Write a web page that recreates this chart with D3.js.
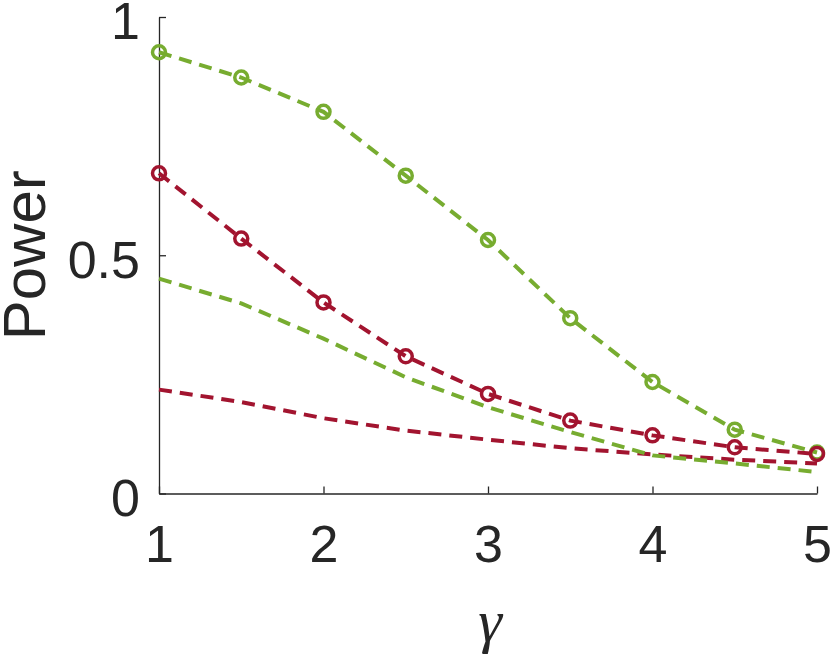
<!DOCTYPE html>
<html>
<head>
<meta charset="utf-8">
<script src="https://cdn.jsdelivr.net/npm/d3@7"></script>
<style>
  body { margin: 0; background: #fff; }
  svg { display: block; }
  .tick text { font-family: "Liberation Sans", Arial, sans-serif; fill: #262626; }
</style>
</head>
<body>
<div id="chart"></div>
<script>
// data
const gamma = [1, 1.5, 2, 2.5, 3, 3.5, 4, 4.5, 5];
const greenMarked = [0.926, 0.873, 0.801, 0.667, 0.532, 0.368, 0.234, 0.134, 0.086];
const redMarked = [0.672, 0.535, 0.401, 0.288, 0.209, 0.153, 0.122, 0.097, 0.083];
const greenPlain = [0.451, 0.399, 0.325, 0.244, 0.181, 0.129, 0.080, 0.063, 0.045];
const redPlain = [0.218, 0.192, 0.158, 0.132, 0.113, 0.095, 0.082, 0.071, 0.063];
const xTicks = [1, 2, 3, 4, 5];
const yTicks = [0, 0.5, 1];

const green = '#77AC30', red = '#A2142F';

const width = 830, height = 657;

const svg = d3.select('#chart').append('svg')
    .attr('width', width)
    .attr('height', height);

const x = d3.scaleLinear().domain([1, 5]).range([159, 817]);
const y = d3.scaleLinear().domain([0, 1]).range([493.5, 17]);

// ejes
const xAxis = svg.append('g')
    .attr('transform', 'translate(0,' + y(0) + ')')
    .call(d3.axisBottom(x).tickValues(xTicks).tickFormat(d3.format('d')).tickSizeInner(-7).tickSizeOuter(0));

const yAxis = svg.append('g')
    .attr('transform', 'translate(' + x(1) + ',0)')
    .call(d3.axisLeft(y).tickValues(yTicks).tickFormat(d => d).tickSizeInner(-7).tickSizeOuter(0));

[xAxis, yAxis].forEach(a => {
    a.select('.domain').attr('stroke', '#262626').attr('stroke-width', 1.3);
    a.selectAll('.tick line').attr('stroke', '#262626').attr('stroke-width', 1.3);
    a.selectAll('.tick text').style('font-size', '52px');
});
xAxis.selectAll('.tick text').attr('dy', '0.71em').attr('y', 32);
yAxis.selectAll('.tick text').attr('x', -19).attr('dy', '0.42em');

// etiquetas
svg.append('text')
    .attr('transform', 'translate(45,' + (y(0.5)) + ') rotate(-90)')
    .attr('text-anchor', 'middle')
    .attr('font-family', '"Liberation Sans", Arial, sans-serif')
    .attr('font-size', 60)
    .attr('fill', '#262626')
    .text('Power');

svg.append('text')
    .attr('x', x(3) + 2)
    .attr('y', 641)
    .attr('text-anchor', 'middle')
    .attr('font-family', '"Liberation Serif", "Times New Roman", serif')
    .attr('font-style', 'italic')
    .attr('font-size', 60)
    .attr('fill', '#262626')
    .text('γ');

// lineas
const line = d3.line()
    .x(d => x(d[0]))
    .y(d => y(d[1]));

const series = [
    {vals: redPlain, color: red, marker: false},
    {vals: greenPlain, color: green, marker: false},
    {vals: greenMarked, color: green, marker: true},
    {vals: redMarked, color: red, marker: true}
];

series.forEach(s => {
    const pts = gamma.map((g, i) => [g, s.vals[i]]);
    svg.append('path')
        .datum(pts)
        .attr('fill', 'none')
        .attr('stroke', s.color)
        .attr('stroke-width', 4)
        .attr('stroke-dasharray', '13,8')
        .attr('d', line);
    if (s.marker) {
        svg.selectAll(null)
            .data(pts)
            .enter()
            .append('circle')
            .attr('cx', d => x(d[0]))
            .attr('cy', d => y(d[1]))
            .attr('r', 6.5)
            .attr('fill', 'none')
            .attr('stroke', s.color)
            .attr('stroke-width', 3.5);
    }
});
</script>
</body>
</html>
